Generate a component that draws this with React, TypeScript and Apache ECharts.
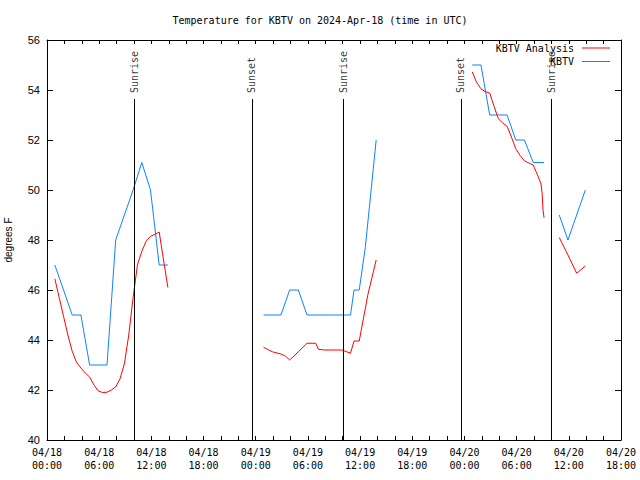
import React, { useEffect, useRef } from "react";
import * as echarts from "echarts";

const TITLE = "Temperature for KBTV on 2024-Apr-18 (time in UTC)";
const Y_NAME = "degrees F";
const Y_MIN = 40;
const Y_MAX = 56;
const Y_STEP = 2;
const X_START = "2024-04-18T00:00Z";
const X_END = "2024-04-20T18:00Z";

// KBTV observations (blue)
const obsTimes1 = ["2024-04-18T00:54Z", "2024-04-18T01:54Z", "2024-04-18T02:54Z", "2024-04-18T03:54Z", "2024-04-18T04:54Z", "2024-04-18T05:54Z", "2024-04-18T06:54Z", "2024-04-18T07:54Z", "2024-04-18T08:54Z", "2024-04-18T09:54Z", "2024-04-18T10:54Z", "2024-04-18T11:54Z", "2024-04-18T12:54Z", "2024-04-18T13:54Z"];
const obsTemps1 = [47, 46, 45, 45, 43, 43, 43, 48, 49, 50, 51.1, 50, 47, 47];
const obsTimes2 = ["2024-04-19T00:54Z", "2024-04-19T01:54Z", "2024-04-19T02:54Z", "2024-04-19T03:54Z", "2024-04-19T04:54Z", "2024-04-19T05:54Z", "2024-04-19T06:54Z", "2024-04-19T07:54Z", "2024-04-19T08:54Z", "2024-04-19T09:54Z", "2024-04-19T10:54Z", "2024-04-19T11:18Z", "2024-04-19T11:54Z", "2024-04-19T12:36Z", "2024-04-19T13:51Z"];
const obsTemps2 = [45, 45, 45, 46, 46, 45, 45, 45, 45, 45, 45, 46, 46, 47.7, 52];
const obsTimes3 = ["2024-04-20T00:54Z", "2024-04-20T01:54Z", "2024-04-20T02:54Z", "2024-04-20T03:54Z", "2024-04-20T04:54Z", "2024-04-20T05:54Z", "2024-04-20T06:54Z", "2024-04-20T07:54Z", "2024-04-20T08:54Z", "2024-04-20T09:09Z"];
const obsTemps3 = [55, 55, 53, 53, 53, 52, 52, 51.1, 51.1, 51.1];
const obsTimes4 = ["2024-04-20T10:54Z", "2024-04-20T11:54Z", "2024-04-20T12:54Z", "2024-04-20T13:54Z"];
const obsTemps4 = [49, 48, 49, 50];

// KBTV analysis (red)
const anaTimes1 = ["2024-04-18T00:54Z", "2024-04-18T01:24Z", "2024-04-18T01:54Z", "2024-04-18T02:24Z", "2024-04-18T02:54Z", "2024-04-18T03:24Z", "2024-04-18T03:54Z", "2024-04-18T04:24Z", "2024-04-18T04:54Z", "2024-04-18T05:24Z", "2024-04-18T05:54Z", "2024-04-18T06:24Z", "2024-04-18T06:54Z", "2024-04-18T07:24Z", "2024-04-18T07:54Z", "2024-04-18T08:24Z", "2024-04-18T08:54Z", "2024-04-18T09:24Z", "2024-04-18T09:54Z", "2024-04-18T10:24Z", "2024-04-18T10:54Z", "2024-04-18T11:24Z", "2024-04-18T11:54Z", "2024-04-18T12:24Z", "2024-04-18T12:54Z", "2024-04-18T13:24Z", "2024-04-18T13:54Z"];
const anaTemps1 = [46.45, 45.7, 44.95, 44.2, 43.55, 43.1, 42.88, 42.68, 42.52, 42.2, 41.96, 41.9, 41.91, 42.0, 42.12, 42.45, 43.05, 44.2, 45.7, 47.0, 47.55, 47.95, 48.15, 48.22, 48.32, 47.2, 46.1];
const anaTimes2 = ["2024-04-19T00:54Z", "2024-04-19T01:24Z", "2024-04-19T01:54Z", "2024-04-19T02:54Z", "2024-04-19T03:24Z", "2024-04-19T03:54Z", "2024-04-19T04:24Z", "2024-04-19T04:54Z", "2024-04-19T05:54Z", "2024-04-19T06:54Z", "2024-04-19T07:12Z", "2024-04-19T07:54Z", "2024-04-19T08:54Z", "2024-04-19T09:54Z", "2024-04-19T10:54Z", "2024-04-19T11:18Z", "2024-04-19T11:54Z", "2024-04-19T12:54Z", "2024-04-19T13:51Z"];
const anaTemps2 = [43.71, 43.62, 43.53, 43.44, 43.36, 43.2, 43.36, 43.53, 43.87, 43.87, 43.63, 43.6, 43.6, 43.6, 43.47, 43.96, 43.96, 45.82, 47.2];
const anaTimes3 = ["2024-04-20T00:54Z", "2024-04-20T01:24Z", "2024-04-20T01:54Z", "2024-04-20T02:24Z", "2024-04-20T02:54Z", "2024-04-20T03:24Z", "2024-04-20T03:54Z", "2024-04-20T04:24Z", "2024-04-20T04:54Z", "2024-04-20T05:24Z", "2024-04-20T05:54Z", "2024-04-20T06:24Z", "2024-04-20T06:54Z", "2024-04-20T07:24Z", "2024-04-20T07:54Z", "2024-04-20T08:24Z", "2024-04-20T08:48Z", "2024-04-20T08:56Z", "2024-04-20T09:02Z", "2024-04-20T09:09Z"];
const anaTemps3 = [54.72, 54.3, 54.05, 53.93, 53.88, 53.35, 52.85, 52.68, 52.55, 52.12, 51.65, 51.38, 51.17, 51.08, 51.0, 50.6, 50.25, 49.85, 49.2, 48.89];
const anaTimes4 = ["2024-04-20T10:54Z", "2024-04-20T11:54Z", "2024-04-20T12:54Z", "2024-04-20T13:54Z"];
const anaTemps4 = [48.1, 47.4, 46.67, 46.96];

// Sunrise / sunset markers
const eventNames = ["Sunrise", "Sunset", "Sunrise", "Sunset", "Sunrise"];
const eventTimes = ["2024-04-18T10:05Z", "2024-04-18T23:34Z", "2024-04-19T10:03Z", "2024-04-19T23:35Z", "2024-04-20T10:01Z"];
const EVENT_LINE_TOP = 53.64;
const EVENT_LABEL_AT = 53.88;

const HOUR = 3600 * 1000;
const ms = (s: string) => Date.parse(s);

function buildSeries(times: string[][], temps: number[][]) {
  const out: any[] = [];
  times.forEach((seg, i) => {
    seg.forEach((t, j) => out.push([ms(t), temps[i][j]]));
    if (i < times.length - 1) out.push([ms(seg[seg.length - 1]) + 60000, "-"]);
  });
  return out;
}

const pad = (n: number) => String(n).padStart(2, "0");

export default function App() {
  const ref = useRef<HTMLDivElement>(null);
  useEffect(() => {
    if (!ref.current) return;
    const chart = echarts.init(ref.current, null, { renderer: "svg" });
    const xMin = ms(X_START);
    const xMax = ms(X_END);
    const mono = "DejaVu Sans Mono";
    const sans = "Liberation Sans";
    const obsData = buildSeries([obsTimes1, obsTimes2, obsTimes3, obsTimes4], [obsTemps1, obsTemps2, obsTemps3, obsTemps4]);
    const anaData = buildSeries([anaTimes1, anaTimes2, anaTimes3, anaTimes4], [anaTemps1, anaTemps2, anaTemps3, anaTemps4]);
    const black = "#000000";
    const RED = "#ff0000";
    const BLUE = "#0a84ff";
    const xAxisBase = {
      type: "value",
      min: xMin,
      max: xMax,
      interval: 2 * HOUR,
      splitLine: { show: false },
      axisLine: { show: true, lineStyle: { color: black, width: 1 } },
      axisTick: { show: true, inside: true, length: 4, lineStyle: { color: black } },
    };
    const yAxisBase = {
      type: "value",
      min: Y_MIN,
      max: Y_MAX,
      interval: Y_STEP,
      splitLine: { show: false },
      axisLine: { show: true, lineStyle: { color: black, width: 1 } },
      axisTick: { show: true, inside: true, length: 6, lineStyle: { color: black } },
    };
    const legendBase = {
      right: 30,
      padding: 0,
      align: "right",
      icon: "rect",
      itemWidth: 28,
      itemHeight: 1,
      textStyle: { fontFamily: mono, fontSize: 10, color: black, padding: [0, 3, 0, 0] },
    };
    chart.setOption({
      animation: false,
      backgroundColor: "#ffffff",
      title: {
        text: TITLE,
        left: "center",
        top: 10,
        textStyle: { fontFamily: mono, fontSize: 10, fontWeight: "normal", color: black },
      },
      grid: { left: 47, right: 19, top: 40, bottom: 40, containLabel: false, outerBoundsMode: "none" },
      legend: [
        { ...legendBase, data: [{ name: "KBTV Analysis", itemStyle: { color: RED } }], top: 43 },
        { ...legendBase, data: [{ name: "KBTV", itemStyle: { color: BLUE } }], top: 56.5 },
      ],
      xAxis: [
        {
          ...xAxisBase,
          position: "bottom",
          axisLabel: {
            show: true,
            margin: 6,
            fontFamily: mono,
            fontSize: 10,
            lineHeight: 13,
            color: black,
            showMinLabel: true,
            showMaxLabel: true,
            hideOverlap: false,
            formatter: (v: number) => {
              if ((v - xMin) % (6 * HOUR) !== 0) return "";
              const d = new Date(v);
              return `${pad(d.getUTCMonth() + 1)}/${pad(d.getUTCDate())}\n${pad(d.getUTCHours())}:${pad(d.getUTCMinutes())}`;
            },
          },
        },
        { ...xAxisBase, position: "top", axisLabel: { show: false } },
      ],
      yAxis: [
        {
          ...yAxisBase,
          position: "left",
          name: Y_NAME,
          nameLocation: "middle",
          nameGap: 34,
          nameTextStyle: { fontFamily: sans, fontSize: 10, color: black },
          axisLabel: { show: true, margin: 7, fontFamily: sans, fontSize: 11, color: black },
        },
        { ...yAxisBase, position: "right", axisLabel: { show: false } },
      ],
      series: [
        {
          name: "KBTV Analysis",
          type: "line",
          data: anaData,
          symbol: "none",
          connectNulls: false,
          lineStyle: { color: RED, width: 1 },
          itemStyle: { color: RED },
          z: 3,
          markLine: {
            silent: true,
            symbol: ["none", "none"],
            label: { show: false },
            lineStyle: { color: black, width: 1, type: "solid" },
            data: eventTimes.map((t) => [{ coord: [ms(t), Y_MIN] }, { coord: [ms(t), EVENT_LINE_TOP] }]),
          },
        },
        {
          name: "KBTV",
          type: "line",
          data: obsData,
          symbol: "none",
          connectNulls: false,
          lineStyle: { color: BLUE, width: 1 },
          itemStyle: { color: BLUE },
          z: 2,
        },
        {
          name: "events",
          type: "scatter",
          symbolSize: 0,
          silent: true,
          data: eventTimes.map((t, i) => ({ name: eventNames[i], value: [ms(t), EVENT_LABEL_AT] })),
          label: {
            show: true,
            formatter: "{b}",
            position: "inside",
            rotate: 90,
            align: "left",
            verticalAlign: "middle",
            fontFamily: mono,
            fontSize: 10,
            color: black,
          },
          z: 4,
        },
      ],
    });
    return () => chart.dispose();
  }, []);
  return <div ref={ref} style={{ width: 640, height: 480, position: "absolute", left: 0, top: 0 }} />;
}
